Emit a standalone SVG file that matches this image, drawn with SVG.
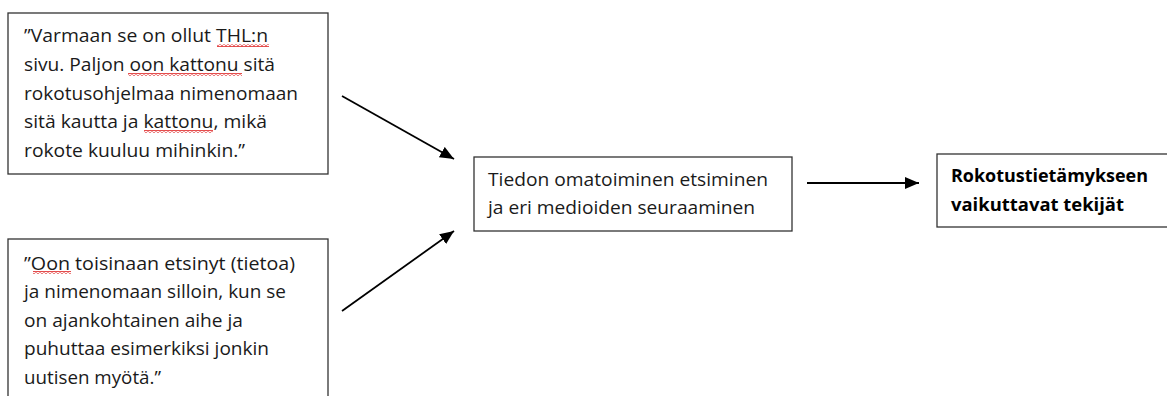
<svg xmlns="http://www.w3.org/2000/svg" width="1167" height="396" viewBox="0 0 1167 396">
<defs>
<style>
.box{fill:#fff;stroke:#333;stroke-width:1.3}
.t{font-family:"Open Sans","Noto Sans","Liberation Sans",sans-serif;font-size:17.5px;fill:#1a1a1a}
.b{font-weight:bold;fill:#000}
.c{stroke:#000;stroke-width:1.8;fill:none;marker-end:url(#ah)}
.sq{fill:url(#wave)}
</style>
<marker id="ah" markerUnits="userSpaceOnUse" markerWidth="16" markerHeight="14" refX="14" refY="6" orient="auto">
<path d="M0,0 L14,6 L0,12 Z" fill="#000"/>
</marker>
<pattern id="wave" width="4" height="3" patternUnits="userSpaceOnUse">
<path d="M0,2.3 L2,0.7 L4,2.3" fill="none" stroke="#e03030" stroke-width="1.1"/>
</pattern>
</defs>
<rect width="1167" height="396" fill="#fff"/>
<g id="quote1">
<rect class="box" x="8" y="13" width="320" height="161"/>
<text class="t"><tspan x="24" y="42" textLength="244" lengthAdjust="spacingAndGlyphs">”Varmaan se on ollut THL:n</tspan><tspan x="24" y="71" textLength="251" lengthAdjust="spacingAndGlyphs">sivu. Paljon oon kattonu sitä</tspan><tspan x="24" y="99.5" textLength="274" lengthAdjust="spacingAndGlyphs">rokotusohjelmaa nimenomaan</tspan><tspan x="24" y="128" textLength="243" lengthAdjust="spacingAndGlyphs">sitä kautta ja kattonu, mikä</tspan><tspan x="24" y="157" textLength="221" lengthAdjust="spacingAndGlyphs">rokote kuuluu mihinkin.”</tspan></text>
<rect class="sq" x="217" y="44" width="52" height="3"/>
<rect class="sq" x="128" y="73" width="114" height="3"/>
<rect class="sq" x="144" y="130" width="69" height="3"/>
</g>
<g id="quote2">
<rect class="box" x="8" y="239" width="320" height="170"/>
<text class="t"><tspan x="24" y="269.5" textLength="271" lengthAdjust="spacingAndGlyphs">”Oon toisinaan etsinyt (tietoa)</tspan><tspan x="24" y="298" textLength="262" lengthAdjust="spacingAndGlyphs">ja nimenomaan silloin, kun se</tspan><tspan x="24" y="326.5" textLength="219" lengthAdjust="spacingAndGlyphs">on ajankohtainen aihe ja</tspan><tspan x="24" y="355" textLength="245" lengthAdjust="spacingAndGlyphs">puhuttaa esimerkiksi jonkin</tspan><tspan x="24" y="383.5" textLength="137" lengthAdjust="spacingAndGlyphs">uutisen myötä.”</tspan></text>
<rect class="sq" x="33" y="271" width="38" height="3"/>
</g>
<g id="middle">
<rect class="box" x="474" y="157" width="318" height="74"/>
<text class="t"><tspan x="488" y="186" textLength="280" lengthAdjust="spacingAndGlyphs">Tiedon omatoiminen etsiminen</tspan><tspan x="488" y="214" textLength="267" lengthAdjust="spacingAndGlyphs">ja eri medioiden seuraaminen</tspan></text>
</g>
<g id="result">
<rect class="box" x="937" y="154" width="240" height="73"/>
<text class="t b"><tspan x="951" y="182" textLength="197" lengthAdjust="spacingAndGlyphs">Rokotustietämykseen</tspan><tspan x="951" y="211" textLength="173" lengthAdjust="spacingAndGlyphs">vaikuttavat tekijät</tspan></text>
</g>
<g id="connectors">
<path class="c" d="M342,96 L454,159"/>
<path class="c" d="M342,311 L454,231"/>
<path class="c" d="M807,183 L919,183"/>
</g>
</svg>
